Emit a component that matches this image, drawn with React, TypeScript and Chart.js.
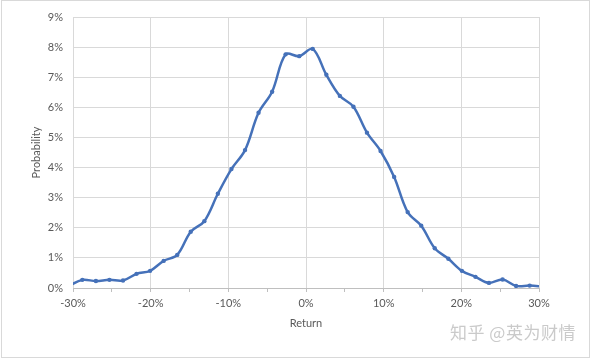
import React, { useEffect, useRef } from "react";
import { Chart, registerables } from "chart.js";

Chart.register(...registerables);

// Return bins (%), including one point just outside each axis end (clipped)
const returns = [
  -30.55, -28.8, -27.05, -25.31, -23.56, -21.82, -20.07, -18.33, -16.58, -14.84, -13.09,
  -11.35, -9.6, -7.85, -6.11, -4.36, -2.62, -0.87, 0.87, 2.62, 4.36, 6.11, 7.85,
  9.6, 11.35, 13.09, 14.84, 16.58, 18.33, 20.07, 21.82, 23.56, 25.31, 27.05, 28.8, 30.55,
];
// Probability (%)
const probability = [
  0.07, 0.27, 0.23, 0.27, 0.25, 0.47, 0.57, 0.9, 1.1, 1.87, 2.22,
  3.13, 3.95, 4.58, 5.82, 6.52, 7.76, 7.7, 7.94, 7.08, 6.38, 6.02, 5.16,
  4.55, 3.69, 2.52, 2.07, 1.32, 0.97, 0.57, 0.37, 0.17, 0.28, 0.07, 0.08, 0.05,
];

const xTitle = "Return";
const yTitle = "Probability";
const watermark = "知乎 @英为财情";

export default function App() {
  const ref = useRef<HTMLCanvasElement>(null);
  useEffect(() => {
    if (!ref.current) return;
    const fontFamily = "Lato, 'Liberation Sans', sans-serif";
    const chart = new Chart(ref.current, {
      type: "line",
      data: {
        datasets: [
          {
            data: returns.map((x, i) => ({ x, y: probability[i] })),
            borderColor: "#4571b9",
            backgroundColor: "#4571b9",
            borderWidth: 2.5,
            pointRadius: 2.2,
            pointBorderWidth: 0,
            tension: 0.35,
          },
        ],
      },
      options: {
        animation: false,
        responsive: false,
        layout: { padding: { left: 24, top: 17, right: 53, bottom: 26 } },
        plugins: { legend: { display: false }, tooltip: { enabled: false } },
        scales: {
          x: {
            type: "linear",
            min: -30,
            max: 30,
            afterFit: (s: any) => {
              s.height = 44;
            },
            ticks: {
              stepSize: 5,
              autoSkip: false,
              maxRotation: 0,
              padding: 5,
              color: "#595959",
              font: { family: fontFamily, size: 11 },
              callback: (v: any) => (Math.round(v) % 10 === 0 ? v + "%" : ""),
            },
            grid: {
              color: (c: any) =>
                Math.round(c.tick?.value ?? 0) % 10 === 0 ? "#d9d9d9" : "rgba(0,0,0,0)",
              tickColor: "#bfbfbf",
              tickLength: 4,
            },
            border: { color: "#bfbfbf" },
            title: {
              display: true,
              text: xTitle,
              color: "#595959",
              font: { family: fontFamily, size: 11 },
              padding: { top: 0, bottom: 2 },
            },
          },
          y: {
            min: 0,
            max: 9,
            afterFit: (s: any) => {
              s.width = 49;
            },
            ticks: {
              stepSize: 1,
              padding: 10,
              color: "#595959",
              font: { family: fontFamily, size: 11 },
              callback: (v: any) => v + "%",
            },
            grid: { color: "#d9d9d9", drawTicks: false },
            border: { display: false },
            title: {
              display: true,
              text: yTitle,
              color: "#595959",
              font: { family: fontFamily, size: 11 },
              padding: { top: 6, bottom: 0 },
            },
          },
        },
      },
    });
    return () => chart.destroy();
  }, []);

  return (
    <div style={{ position: "fixed", left: 0, top: 0, width: 592, height: 358, background: "#fff" }}>
      <canvas ref={ref} width={592} height={358} style={{ position: "absolute", left: 0, top: 0 }} />
      <div
        style={{
          position: "absolute",
          left: 1,
          top: 0,
          width: 587,
          height: 356,
          border: "1px solid #d9d9d9",
          pointerEvents: "none",
        }}
      />
      <div
        style={{
          position: "absolute",
          left: 450,
          top: 320,
          fontFamily: "'Noto Sans CJK SC', sans-serif",
          fontSize: 17,
          letterSpacing: 0.5,
          color: "#cacaca",
          whiteSpace: "nowrap",
          lineHeight: "24px",
        }}
      >
        {watermark}
      </div>
    </div>
  );
}
